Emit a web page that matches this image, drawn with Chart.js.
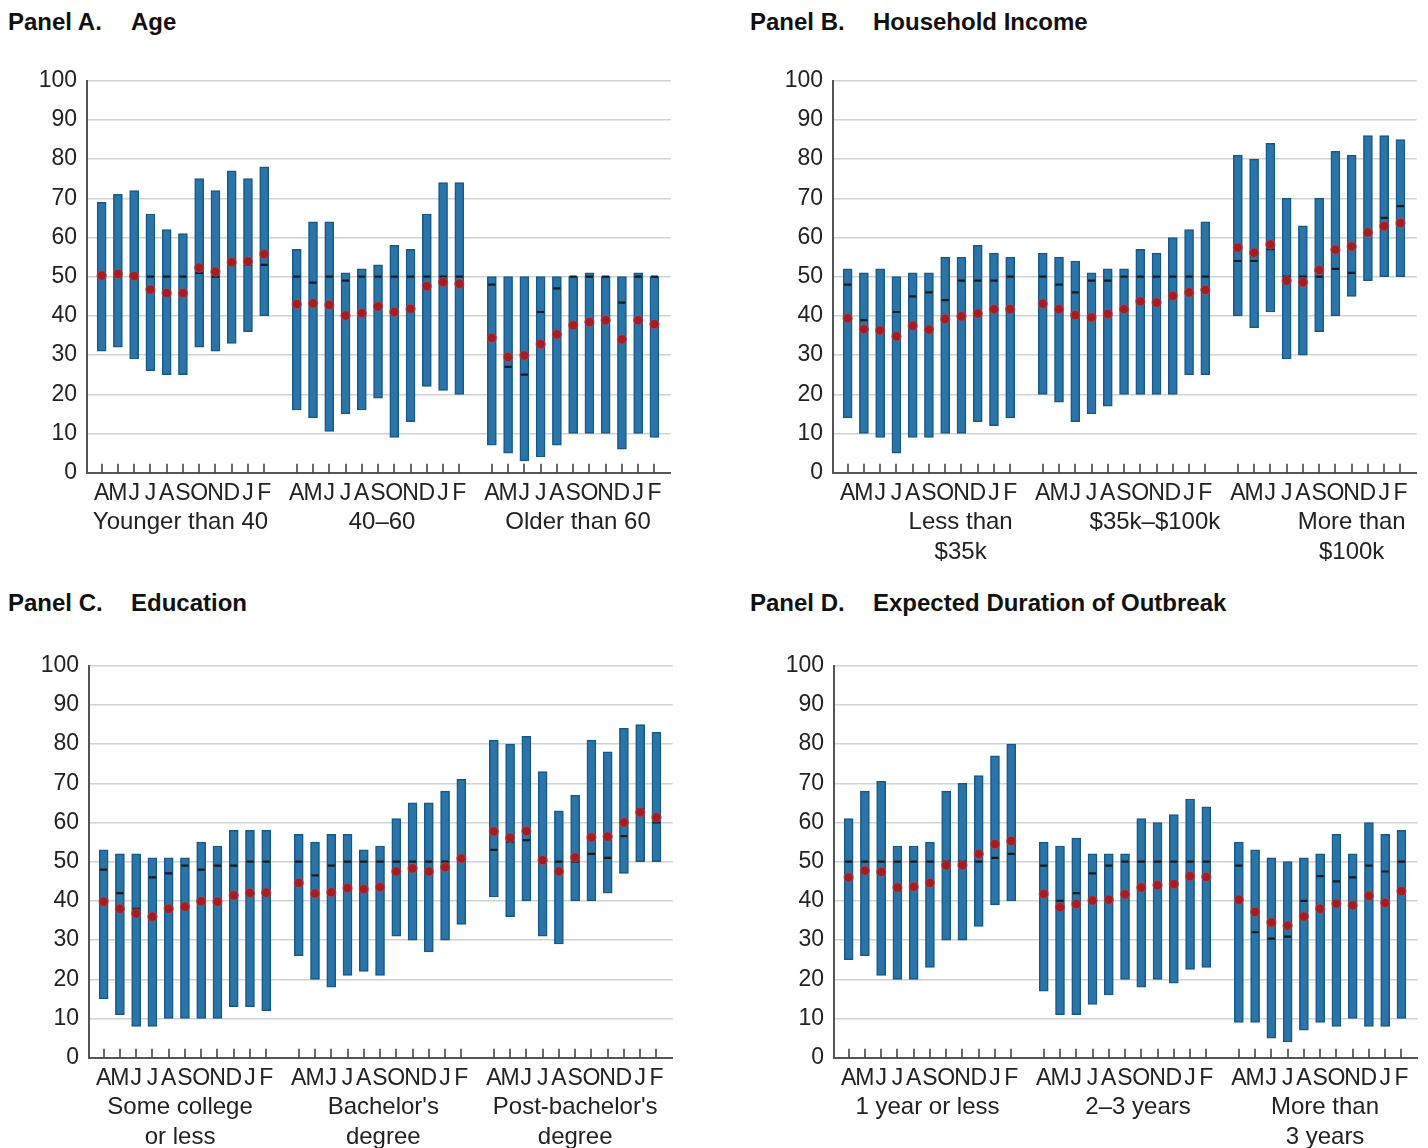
<!DOCTYPE html>
<html>
<head>
<meta charset="utf-8">
<script src="https://cdn.jsdelivr.net/npm/chart.js@4.4.1/dist/chart.umd.min.js"></script>
<style>
  html, body { margin: 0; padding: 0; background: #fff; }
  body { width: 1428px; height: 1148px; position: relative; overflow: hidden;
         font-family: "Liberation Sans", Arial, sans-serif; }
  .title { position: absolute; font-weight: bold; font-size: 24px; line-height: 24px;
           color: #111; white-space: nowrap; }
  canvas { position: absolute; }
</style>
</head>
<body>
<div class="title" style="left:8px;top:10px">Panel A.</div>
<div class="title" style="left:131px;top:10px">Age</div>
<div class="title" style="left:750px;top:10px">Panel B.</div>
<div class="title" style="left:873px;top:10px">Household Income</div>
<div class="title" style="left:8px;top:591px">Panel C.</div>
<div class="title" style="left:131px;top:591px">Education</div>
<div class="title" style="left:750px;top:591px">Panel D.</div>
<div class="title" style="left:873px;top:591px">Expected Duration of Outbreak</div>

<canvas id="panelA"></canvas>
<canvas id="panelB"></canvas>
<canvas id="panelC"></canvas>
<canvas id="panelD"></canvas>

<script>
// Survey months, April through February, repeated for each group
const months = ['A', 'M', 'J', 'J', 'A', 'S', 'O', 'N', 'D', 'J', 'F'];

// Panel A: Age (three groups of 11 months each)
const ageGroups = [['Younger than 40'], ['40–60'], ['Older than 60']];
const ageHigh = [69, 71, 72, 66, 62, 61, 75, 72, 77, 75, 78,
                 57, 64, 64, 51, 52, 53, 58, 57, 66, 74, 74,
                 50, 50, 50, 50, 50, 50, 51, 50, 50, 51, 50];
const ageLow = [31, 32, 29, 26, 25, 25, 32, 31, 33, 36, 40,
                16, 14, 10.5, 15, 16, 19, 9, 13, 22, 21, 20,
                7, 5, 3, 4, 7, 10, 10, 10, 6, 10, 9];
const ageMedian = [50, 50, 50, 50, 50, 50, 51, 50, 53, 53, 53,
                   50, 48.5, 50, 49, 50, 50, 50, 50, 50, 50, 50,
                   48, 27, 25, 41, 47, 50, 50, 50, 43.4, 50, 50];
const ageMean = [50.3, 50.7, 50.2, 46.7, 45.8, 45.8, 52.3, 51.3, 53.7, 53.9, 55.8,
                 43.0, 43.2, 42.8, 40.1, 40.7, 42.4, 41.0, 41.8, 47.6, 48.6, 48.2,
                 34.4, 29.5, 29.9, 32.8, 35.3, 37.6, 38.4, 38.9, 34.0, 38.9, 37.9];

// Panel B: Household income
const incomeGroups = [['Less than', '$35k'], ['$35k–$100k'], ['More than', '$100k']];
const incomeHigh = [52, 51, 52, 50, 51, 51, 55, 55, 58, 56, 55,
                    56, 55, 54, 51, 52, 52, 57, 56, 60, 62, 64,
                    81, 80, 84, 70, 63, 70, 82, 81, 86, 86, 85];
const incomeLow = [14, 10, 9, 5, 9, 9, 10, 10, 13, 12, 14,
                   20, 18, 13, 15, 17, 20, 20, 20, 20, 25, 25,
                   40, 37, 41, 29, 30, 36, 40, 45, 49, 50, 50];
const incomeMedian = [48, 38.9, 36.5, 41, 45, 46, 44, 49, 49, 49, 50,
                      50, 48, 46, 49, 49, 50, 50, 50, 50, 50, 50,
                      54, 54, 57, 50, 50, 50, 52, 51, 61.5, 65, 68];
const incomeMean = [39.4, 36.6, 36.3, 34.8, 37.5, 36.5, 39.2, 39.9, 40.6, 41.7, 41.7,
                    43.1, 41.7, 40.2, 39.6, 40.5, 41.7, 43.7, 43.4, 45.1, 46.0, 46.6,
                    57.4, 56.1, 58.2, 49.0, 48.6, 51.7, 56.9, 57.7, 61.3, 62.9, 63.7];

// Panel C: Education
const eduGroups = [['Some college', 'or less'], ["Bachelor's", 'degree'], ["Post-bachelor's", 'degree']];
const eduHigh = [53, 52, 52, 51, 51, 51, 55, 54, 58, 58, 58,
                 57, 55, 57, 57, 53, 54, 61, 65, 65, 68, 71,
                 81, 80, 82, 73, 63, 67, 81, 78, 84, 85, 83];
const eduLow = [15, 11, 8, 8, 10, 10, 10, 10, 13, 13, 12,
                26, 20, 18, 21, 22, 21, 31, 30, 27, 30, 34,
                41, 36, 40, 31, 29, 40, 40, 42, 47, 50, 50];
const eduMedian = [48, 42, 38, 46, 47, 49, 48, 49, 49, 50, 50,
                   50, 46.5, 49, 50, 50, 50, 50, 50, 50, 50, 50.5,
                   53, 55.1, 55.5, 50.2, 50, 50, 52, 51, 56.5, 63.4, 60];
const eduMean = [39.8, 38.0, 36.8, 36.0, 38.0, 38.5, 39.9, 39.8, 41.4, 42.0, 42.1,
                 44.6, 41.9, 42.2, 43.3, 43.0, 43.5, 47.5, 48.3, 47.5, 48.6, 50.8,
                 57.7, 56.1, 57.8, 50.4, 47.5, 51.1, 56.2, 56.4, 60.0, 62.6, 61.3];

// Panel D: Expected duration of outbreak
const durGroups = [['1 year or less'], ['2–3 years'], ['More than', '3 years']];
const durHigh = [61, 68, 70.5, 54, 54, 55, 68, 70, 72, 77, 80,
                 55, 54, 56, 52, 52, 52, 61, 60, 62, 66, 64,
                 55, 53, 51, 50, 51, 52, 57, 52, 60, 57, 58];
const durLow = [25, 26, 21, 20, 20, 23, 30, 30, 33.5, 39, 40,
                17, 11, 11, 13.6, 16, 20, 18, 20, 19, 22.5, 23,
                9, 9, 5, 4, 7, 9, 8, 10, 8, 8, 10];
const durMedian = [50, 50, 50, 50, 50, 50, 50, 50, 50, 51, 52,
                   49, 40, 42, 47, 49, 50, 50, 50, 50, 50, 50,
                   49, 32, 30.4, 30.9, 40, 46.3, 45, 46, 49, 47.5, 50];
const durMean = [46.0, 47.7, 47.4, 43.4, 43.6, 44.6, 49.1, 49.1, 52.0, 54.5, 55.3,
                 41.8, 38.4, 39.2, 40.1, 40.3, 41.7, 43.4, 44.0, 44.3, 46.3, 46.1,
                 40.3, 37.2, 34.5, 33.7, 36.0, 38.0, 39.3, 38.9, 41.3, 39.5, 42.5];

const yTicks = [0, 10, 20, 30, 40, 50, 60, 70, 80, 90, 100];

// Each group occupies 11 slots, followed by one empty slot
const slotOf = k => Math.floor(k / 11) * 12 + (k % 11);

Chart.defaults.font.family = '"Liberation Sans", Arial, sans-serif';
Chart.defaults.color = '#222';

// Short tick marks that rise from the x axis into the plot
const innerTicks = {
  id: 'innerTicks',
  beforeDatasetsDraw(chart) {
    const { ctx, chartArea } = chart;
    const x = chart.scales.x;
    ctx.save();
    ctx.strokeStyle = '#444';
    ctx.lineWidth = 1.6;
    x.ticks.forEach(t => {
      const px = Math.round(x.getPixelForValue(t.value));
      ctx.beginPath();
      ctx.moveTo(px, chartArea.bottom);
      ctx.lineTo(px, chartArea.bottom - 9);
      ctx.stroke();
    });
    ctx.restore();
  }
};

// Group names written under the month letters
const groupLabels = {
  id: 'groupLabels',
  afterDraw(chart, args, opts) {
    const { ctx, chartArea } = chart;
    const x = chart.scales.x;
    ctx.save();
    ctx.fillStyle = '#222';
    ctx.font = '24px "Liberation Sans", Arial, sans-serif';
    ctx.textAlign = 'center';
    ctx.textBaseline = 'middle';
    opts.labels.forEach((lines, g) => {
      const cx = x.getPixelForValue(opts.anchors[g]);
      lines.forEach((line, j) => {
        ctx.fillText(line, cx, chartArea.bottom + 49.5 + j * 30);
      });
    });
    ctx.restore();
  }
};

function makePanel(id, box, high, low, median, mean, groups, anchors) {
  const canvas = document.getElementById(id);
  canvas.width = box.w;
  canvas.height = box.h;
  canvas.style.left = box.left + 'px';
  canvas.style.top = box.top + 'px';
  const pts = arr => arr.map((v, k) => ({ x: slotOf(k), y: v }));

  new Chart(canvas, {
    type: 'bar',
    data: {
      datasets: [
        {
          type: 'scatter', label: 'Mean', data: pts(mean), order: 0,
          pointStyle: 'circle', pointRadius: 4.7,
          backgroundColor: '#a21e24', borderColor: 'rgba(205,80,85,0.55)', borderWidth: 1
        },
        {
          type: 'scatter', label: 'Median', data: pts(median), order: 1,
          pointStyle: 'line', pointRadius: 3.6,
          borderColor: '#1b1b1b', borderWidth: 2.2
        },
        {
          type: 'bar', label: 'Range',
          data: high.map((h, k) => ({ x: slotOf(k), y: [low[k], h] })), order: 2,
          backgroundColor: '#2a74a8', borderColor: '#14598a', borderWidth: 1.5,
          borderSkipped: false, barThickness: 9
        }
      ]
    },
    plugins: [innerTicks, groupLabels],
    options: {
      responsive: false,
      devicePixelRatio: 1,
      animation: false,
      events: [],
      layout: { padding: { top: box.padTop, right: box.padRight, left: 0, bottom: 0 } },
      plugins: {
        legend: { display: false },
        tooltip: { enabled: false },
        groupLabels: { labels: groups, anchors: anchors }
      },
      scales: {
        x: {
          type: 'linear', min: -0.9, max: 35, offset: false,
          grid: { display: false, drawTicks: false, offset: false },
          border: { display: true, color: '#555', width: 2 },
          afterBuildTicks: axis => {
            axis.ticks = high.map((h, k) => ({ value: slotOf(k) }));
          },
          afterFit: scale => { scale.height = box.xAxisH; },
          ticks: {
            autoSkip: false, maxRotation: 0, minRotation: 0, padding: 7,
            font: { size: 23 }, color: '#222',
            callback: v => months[v % 12]
          }
        },
        y: {
          min: 0, max: 100,
          afterBuildTicks: axis => { axis.ticks = yTicks.map(v => ({ value: v })); },
          afterFit: scale => { scale.width = box.yAxisW; },
          grid: { color: '#d2d2d2', lineWidth: 1.5, drawTicks: false },
          border: { display: true, color: '#555', width: 2 },
          ticks: { padding: 10, font: { size: 23 }, color: '#222' }
        }
      }
    }
  });
}

makePanel('panelA', { left: 0, top: 40, w: 700, h: 540, padTop: 40.7, padRight: 29.3, yAxisW: 87, xAxisH: 107.3 },
  ageHigh, ageLow, ageMedian, ageMean, ageGroups, [4.85, 17.25, 29.3]);
makePanel('panelB', { left: 746, top: 40, w: 682, h: 540, padTop: 40.7, padRight: 11.3, yAxisW: 87, xAxisH: 107.3 },
  incomeHigh, incomeLow, incomeMedian, incomeMean, incomeGroups, [6.95, 18.9, 31]);
makePanel('panelC', { left: 0, top: 625, w: 700, h: 540, padTop: 40.7, padRight: 27.3, yAxisW: 89, xAxisH: 107.3 },
  eduHigh, eduLow, eduMedian, eduMean, eduGroups, [4.7, 17.2, 29]);
makePanel('panelD', { left: 746, top: 625, w: 682, h: 540, padTop: 40.7, padRight: 10.3, yAxisW: 88, xAxisH: 107.3 },
  durHigh, durLow, durMedian, durMean, durGroups, [4.85, 17.8, 29.3]);
</script>
</body>
</html>
